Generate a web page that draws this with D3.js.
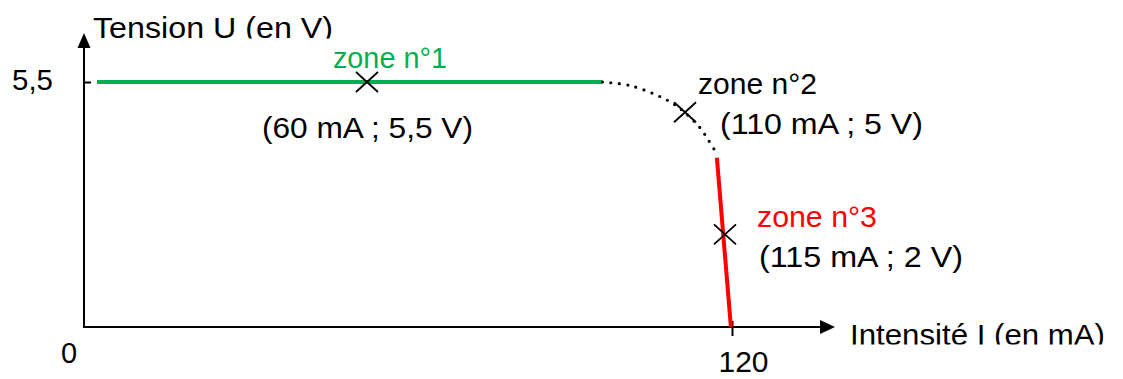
<!DOCTYPE html>
<html>
<head>
<meta charset="utf-8">
<script src="https://cdn.jsdelivr.net/npm/d3@7"></script>
<style>
  html, body { margin: 0; padding: 0; background: #fff; }
  svg text { font-family: "Liberation Sans", Arial, sans-serif; font-size: 29px; }
</style>
</head>
<body>
<div id="chart"></div>
<script>
// Characteristic U = f(I) of the generator
let greenI = [2.4, 96];
let greenU = [5.5, 5.5];

let curveI = [96, 101.1, 106.7, 109.4, 111.3, 114.1, 115.6, 117.0];
let curveU = [5.5, 5.42, 5.17, 4.99, 4.81, 4.47, 4.20, 3.93];

let redI = [117.2, 119.8];
let redU = [3.8, 0];

let crossI = [52.4, 111.3, 118.7];
let crossU = [5.5, 4.82, 2.08];

let zoneLabels = ["zone n°1", "zone n°2", "zone n°3"];
let coordLabels = ["(60 mA ; 5,5 V)", "(110 mA ; 5 V)", "(115 mA ; 2 V)"];

let xTicks = [120];
let yTicks = [5.5];

let width = 1123;
let height = 379;

let green = "#00b050";
let red = "#ff0000";
let fontFamily = "'Liberation Sans', Arial, sans-serif";

// label offsets from each cross and rendered widths (pixels)
let zoneOffset = [[-34, -14], [13, -18], [32, -7]];
let zoneWidth = [114, 119, 120];
let coordOffset = [[-105, 56], [35, 22], [34, 33]];
let coordWidth = [211, 203, 204];
let zoneColor = [green, "#000", red];

// the original text is a little wider than Arial: force the widths
let fit = function (sel, w) {
    sel.attr("textLength", w).attr("lengthAdjust", "spacingAndGlyphs");
    return sel;
}

let svg = d3.select("#chart")
    .append("svg")
    .attr("width", width)
    .attr("height", height);

let xScale = d3.scaleLinear().domain([0, 120]).range([84, 732]);
let yScale = d3.scaleLinear().domain([0, 5.5]).range([327, 82]);

let x0 = xScale(0), y0 = yScale(0);

// clip regions for the two axis titles (they are cut at the bottom in the original)
let defs = svg.append("defs");
defs.append("clipPath").attr("id", "clipY")
    .append("rect").attr("x", 0).attr("y", 0).attr("width", 400).attr("height", 38.5);
defs.append("clipPath").attr("id", "clipX")
    .append("rect").attr("x", 800).attr("y", 300).attr("width", 323).attr("height", 44.5);

// X axis
let xAxis = d3.axisBottom(xScale)
    .tickValues(xTicks)
    .tickSize(9)
    .tickFormat(d3.format("d"));

let gx = svg.append("g")
    .attr("transform", "translate(0," + y0 + ")")
    .call(xAxis);
gx.select(".domain").remove();
gx.selectAll(".tick line").attr("y1", -6).attr("stroke", "#000").attr("stroke-width", 2);
gx.selectAll(".tick text")
    .attr("y", 45)
    .attr("dy", 0)
    .attr("x", 11)
    .attr("fill", "#000")
    .style("font-size", "29px")
    .style("font-family", fontFamily)
    .call(fit, 50);

// Y axis
let yAxis = d3.axisLeft(yScale)
    .tickValues(yTicks)
    .tickSize(8)
    .tickFormat(d => String(d).replace(".", ","));

let gy = svg.append("g")
    .attr("transform", "translate(" + x0 + ",0)")
    .call(yAxis);
gy.select(".domain").remove();
gy.selectAll(".tick line").attr("x2", 7).attr("stroke", "#000").attr("stroke-width", 2);
gy.selectAll(".tick text")
    .attr("x", -31)
    .attr("y", 7.5)
    .attr("dy", 0)
    .attr("fill", "#000")
    .style("font-size", "29px")
    .style("font-family", fontFamily)
    .call(fit, 41);

// axis lines with arrow heads
svg.append("line")
    .attr("x1", x0).attr("y1", y0 + 1)
    .attr("x2", x0).attr("y2", 46)
    .attr("stroke", "#000").attr("stroke-width", 2);
svg.append("path")
    .attr("d", "M" + x0 + ",33 L" + (x0 - 6.5) + ",48 L" + (x0 + 6.5) + ",48 Z")
    .attr("fill", "#000");

svg.append("line")
    .attr("x1", x0 - 1).attr("y1", y0)
    .attr("x2", 822).attr("y2", y0)
    .attr("stroke", "#000").attr("stroke-width", 2);
svg.append("path")
    .attr("d", "M835," + y0 + " L820," + (y0 - 7) + " L820," + (y0 + 7) + " Z")
    .attr("fill", "#000");

// origin label
svg.append("text")
    .attr("x", 69).attr("y", 363)
    .attr("text-anchor", "middle")
    .text("0");

// axis titles
svg.append("text")
    .attr("x", 93).attr("y", 38)
    .attr("clip-path", "url(#clipY)")
    .text("Tension U (en V)")
    .call(fit, 240);

svg.append("text")
    .attr("x", 850).attr("y", 345)
    .attr("clip-path", "url(#clipX)")
    .text("Intensité I (en mA)")
    .call(fit, 255);

// zone 1 : green line
let line = d3.line()
    .x(d => xScale(d[0]))
    .y(d => yScale(d[1]));

svg.append("path")
    .datum(d3.zip(greenI, greenU))
    .attr("d", line)
    .attr("fill", "none")
    .attr("stroke", green)
    .attr("stroke-width", 4);

// zone 2 : dotted curve
svg.append("path")
    .datum(d3.zip(curveI, curveU))
    .attr("d", line.curve(d3.curveCatmullRom))
    .attr("fill", "none")
    .attr("stroke", "#000")
    .attr("stroke-width", 3.2)
    .attr("stroke-linecap", "round")
    .attr("stroke-dasharray", "0 8.5");

// zone 3 : red line
svg.append("path")
    .datum(d3.zip(redI, redU))
    .attr("d", line.curve(d3.curveLinear))
    .attr("fill", "none")
    .attr("stroke", red)
    .attr("stroke-width", 4);

// crosses
svg.selectAll(".cross")
    .data(d3.zip(crossI, crossU))
    .enter()
    .append("path")
    .attr("class", "cross")
    .attr("transform", d => "translate(" + xScale(d[0]) + "," + yScale(d[1]) + ")")
    .attr("d", "M-11,-10 L11,10 M-11,10 L11,-10")
    .attr("stroke", "#000")
    .attr("stroke-width", 1.8)
    .attr("fill", "none");

// labels
crossI.forEach(function (v, i) {
    let cx = xScale(v), cy = yScale(crossU[i]);
    svg.append("text")
        .attr("x", cx + zoneOffset[i][0])
        .attr("y", cy + zoneOffset[i][1])
        .attr("fill", zoneColor[i])
        .text(zoneLabels[i])
        .call(fit, zoneWidth[i]);
    svg.append("text")
        .attr("x", cx + coordOffset[i][0])
        .attr("y", cy + coordOffset[i][1])
        .attr("fill", "#000")
        .text(coordLabels[i])
        .call(fit, coordWidth[i]);
});
</script>
</body>
</html>
